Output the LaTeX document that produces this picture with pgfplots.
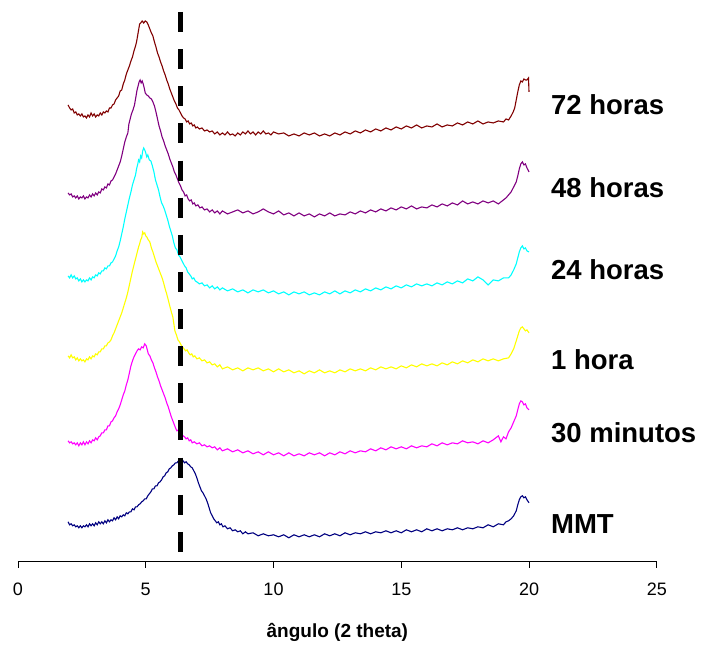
\documentclass[border=0pt]{standalone}
\usepackage{fontspec}
\setmainfont{Liberation Sans}
\usepackage{pgfplots}
\pgfplotsset{compat=1.18}
\definecolor{c72}{HTML}{800000}
\definecolor{c48}{HTML}{800080}
\definecolor{c24}{HTML}{00FFFF}
\definecolor{c1}{HTML}{FFFF00}
\definecolor{c30}{HTML}{FF00FF}
\definecolor{cmmt}{HTML}{000080}
\begin{document}
\begin{tikzpicture}
\begin{axis}[
  scale only axis,
  width=639pt, height=562pt,
  xmin=0, xmax=25, ymin=-562, ymax=0,
  axis x line*=bottom, axis y line=none,
  axis line style={-, black, line width=0.8pt},
  xtick={0,5,10,15,20,25}, ytick=\empty,
  tick align=outside, major tick length=6pt,
  tick style={black, line width=0.8pt},
  /pgf/number format/assume math mode=true,
  xticklabel style={font=\fontsize{18}{18}\selectfont, yshift=-12pt},
  clip=false,
  every axis plot/.append style={line width=1.1pt, mark=none},
]
\path (axis cs:-0.7045,0) rectangle (axis cs:26.888,-645);
\addplot[c72] table {
1.96 -105
2.02 -108
2.08 -110
2.14 -109
2.2 -113
2.26 -112
2.32 -115
2.38 -114
2.44 -116
2.5 -114
2.56 -117
2.62 -116
2.68 -118
2.74 -115
2.8 -117
2.86 -113
2.92 -116
2.98 -114
3.04 -117
3.1 -115
3.16 -116
3.22 -113
3.28 -115
3.34 -112
3.4 -113
3.46 -111
3.52 -112
3.58 -108
3.64 -108
3.7 -105
3.76 -104
3.82 -100
3.88 -98
3.94 -96
4.0 -91
4.06 -90
4.12 -84
4.18 -80
4.24 -74
4.3 -70
4.36 -66
4.42 -61
4.48 -57
4.54 -51
4.6 -46
4.64 -42
4.68 -36
4.72 -30
4.76 -24
4.8 -23
4.86 -21
4.92 -23
4.98 -21
5.04 -22
5.1 -25
5.16 -29
5.22 -33
5.28 -36
5.34 -42
5.4 -47
5.46 -53
5.52 -57
5.58 -62
5.64 -66
5.7 -71
5.76 -75
5.82 -80
5.88 -84
5.94 -89
6.0 -93
6.06 -97
6.12 -101
6.18 -104
6.24 -108
6.3 -110
6.36 -113
6.42 -116
6.48 -118
6.54 -119
6.6 -122
6.66 -121
6.72 -124
6.78 -123
6.84 -126
6.9 -125
6.96 -128
7.02 -127
7.1 -129
7.2 -128
7.3 -131
7.4 -130
7.5 -132
7.6 -131
7.7 -134
7.8 -132
7.9 -135
8.0 -133
8.1 -135
8.2 -132
8.3 -135
8.4 -134
8.5 -136
8.6 -133
8.7 -135
8.8 -132
8.9 -134
9.0 -131
9.1 -134
9.2 -132
9.3 -135
9.4 -132
9.5 -134
9.6 -131
9.7 -134
9.8 -133
9.9 -135
10.0 -132
10.2 -134
10.4 -133
10.6 -136
10.8 -134
11.0 -136
11.2 -133
11.4 -135
11.6 -133
11.8 -136
12.0 -134
12.2 -136
12.4 -133
12.6 -135
12.8 -132
13.0 -134
13.2 -131
13.4 -133
13.6 -130
13.8 -132
14.0 -129
14.2 -131
14.4 -128
14.6 -130
14.8 -127
15.0 -129
15.2 -126
15.4 -128
15.6 -125
15.8 -128
16.0 -126
16.2 -127
16.4 -124
16.6 -127
16.8 -125
17.0 -126
17.2 -123
17.4 -125
17.6 -122
17.8 -124
18.0 -121
18.2 -124
18.4 -122
18.6 -123
18.8 -121
19.0 -122
19.1 -119
19.2 -120
19.3 -116
19.38 -112
19.44 -108
19.5 -100
19.56 -92
19.62 -85
19.68 -81
19.74 -82
19.8 -79
19.86 -80
19.92 -80
19.98 -78
20.0 -92
};
\addplot[c48] table {
1.96 -193
2.02 -195
2.08 -194
2.14 -197
2.2 -196
2.26 -198
2.32 -196
2.38 -199
2.44 -197
2.5 -198
2.56 -196
2.62 -199
2.68 -197
2.74 -198
2.8 -195
2.86 -197
2.92 -194
2.98 -196
3.04 -193
3.1 -195
3.16 -192
3.22 -193
3.28 -189
3.34 -190
3.4 -187
3.46 -188
3.52 -184
3.58 -185
3.64 -181
3.7 -180
3.76 -177
3.82 -174
3.88 -170
3.94 -166
4.0 -162
4.06 -156
4.12 -149
4.18 -142
4.24 -137
4.3 -133
4.34 -124
4.38 -120
4.44 -114
4.5 -110
4.56 -105
4.62 -96
4.66 -90
4.7 -86
4.74 -82
4.78 -80
4.82 -83
4.86 -81
4.9 -84
4.94 -88
4.98 -93
5.04 -95
5.1 -96
5.16 -98
5.22 -99
5.28 -102
5.34 -106
5.4 -112
5.46 -119
5.52 -126
5.58 -131
5.64 -137
5.7 -141
5.76 -146
5.82 -150
5.88 -154
5.94 -159
6.0 -163
6.06 -167
6.12 -172
6.18 -175
6.24 -179
6.3 -183
6.36 -186
6.42 -190
6.48 -192
6.54 -196
6.6 -195
6.66 -199
6.72 -201
6.78 -200
6.84 -204
6.9 -203
6.96 -206
7.04 -205
7.12 -208
7.2 -207
7.3 -210
7.4 -209
7.5 -212
7.6 -210
7.7 -213
7.8 -211
7.9 -214
8.0 -211
8.2 -214
8.4 -212
8.6 -210
8.8 -213
9.0 -211
9.2 -214
9.4 -212
9.6 -209
9.8 -212
10.0 -214
10.2 -211
10.4 -215
10.6 -213
10.8 -216
11.0 -213
11.2 -216
11.4 -214
11.6 -217
11.8 -214
12.0 -216
12.2 -213
12.4 -216
12.6 -214
12.8 -215
13.0 -212
13.2 -214
13.4 -211
13.6 -213
13.8 -210
14.0 -212
14.2 -209
14.4 -211
14.6 -208
14.8 -210
15.0 -207
15.2 -209
15.4 -206
15.6 -209
15.8 -207
16.0 -208
16.2 -205
16.4 -207
16.6 -204
16.8 -206
17.0 -203
17.2 -205
17.4 -201
17.6 -204
17.8 -202
18.0 -204
18.2 -201
18.4 -203
18.6 -201
18.8 -204
19.0 -200
19.1 -198
19.2 -195
19.3 -192
19.4 -187
19.5 -182
19.56 -176
19.62 -169
19.68 -164
19.74 -162
19.8 -165
19.86 -164
19.92 -168
20.0 -172
};
\addplot[c24] table {
1.96 -276
2.02 -278
2.08 -275
2.14 -278
2.2 -276
2.26 -279
2.32 -278
2.38 -281
2.44 -279
2.5 -282
2.56 -280
2.62 -282
2.68 -280
2.74 -281
2.8 -278
2.86 -280
2.92 -277
2.98 -278
3.04 -275
3.1 -276
3.16 -273
3.22 -274
3.28 -271
3.34 -271
3.4 -268
3.46 -269
3.52 -266
3.58 -266
3.64 -263
3.7 -262
3.76 -259
3.82 -256
3.88 -251
3.94 -247
4.0 -241
4.06 -234
4.12 -227
4.18 -219
4.24 -212
4.3 -205
4.36 -198
4.42 -192
4.48 -185
4.54 -180
4.6 -175
4.64 -169
4.68 -165
4.72 -160
4.76 -162
4.8 -156
4.84 -158
4.88 -151
4.92 -148
4.96 -150
5.0 -153
5.04 -157
5.08 -155
5.14 -160
5.2 -161
5.26 -166
5.32 -172
5.38 -180
5.44 -185
5.5 -190
5.56 -197
5.62 -203
5.68 -206
5.74 -210
5.8 -215
5.86 -220
5.92 -226
5.98 -231
6.04 -236
6.1 -243
6.16 -248
6.22 -250
6.28 -255
6.34 -257
6.4 -260
6.46 -263
6.52 -266
6.58 -268
6.64 -272
6.7 -274
6.76 -276
6.82 -279
6.88 -278
6.94 -281
7.0 -282
7.1 -284
7.2 -283
7.3 -286
7.4 -285
7.5 -288
7.6 -286
7.7 -289
7.8 -287
7.9 -290
8.0 -288
8.2 -291
8.4 -289
8.6 -292
8.8 -290
9.0 -293
9.2 -290
9.4 -292
9.6 -290
9.8 -293
10.0 -291
10.2 -294
10.4 -292
10.6 -295
10.8 -292
11.0 -294
11.2 -292
11.4 -295
11.6 -293
11.8 -295
12.0 -292
12.2 -294
12.4 -291
12.6 -294
12.8 -291
13.0 -293
13.2 -290
13.4 -292
13.6 -289
13.8 -291
14.0 -288
14.2 -290
14.4 -287
14.6 -289
14.8 -286
15.0 -288
15.2 -285
15.4 -287
15.6 -284
15.8 -286
16.0 -284
16.2 -286
16.4 -283
16.6 -285
16.8 -282
17.0 -284
17.2 -281
17.4 -283
17.6 -279
17.8 -281
18.0 -277
18.2 -280
18.4 -285
18.6 -280
18.8 -281
19.0 -278
19.2 -278
19.3 -275
19.4 -270
19.5 -264
19.56 -258
19.62 -252
19.68 -248
19.74 -246
19.8 -249
19.86 -248
19.92 -251
20.0 -252
};
\addplot[c1] table {
1.96 -356
2.02 -358
2.08 -355
2.14 -358
2.2 -357
2.26 -360
2.32 -358
2.38 -361
2.44 -359
2.5 -361
2.56 -360
2.62 -362
2.68 -359
2.74 -360
2.8 -357
2.86 -359
2.92 -356
2.98 -357
3.04 -354
3.1 -355
3.16 -352
3.22 -352
3.28 -349
3.34 -349
3.4 -346
3.46 -346
3.52 -343
3.58 -342
3.64 -340
3.7 -336
3.76 -333
3.82 -329
3.88 -325
3.94 -321
4.0 -317
4.06 -313
4.12 -308
4.18 -303
4.24 -298
4.3 -292
4.36 -285
4.42 -278
4.48 -271
4.54 -265
4.6 -259
4.66 -253
4.72 -247
4.76 -244
4.8 -240
4.84 -238
4.88 -232
4.92 -234
4.96 -233
5.0 -236
5.04 -237
5.1 -240
5.16 -242
5.22 -248
5.28 -252
5.34 -257
5.4 -262
5.46 -266
5.52 -270
5.58 -274
5.64 -278
5.7 -283
5.76 -289
5.82 -294
5.88 -300
5.94 -306
6.0 -312
6.06 -317
6.1 -324
6.14 -331
6.2 -335
6.26 -340
6.32 -342
6.38 -345
6.44 -347
6.5 -349
6.56 -351
6.62 -350
6.68 -353
6.74 -355
6.8 -354
6.86 -357
6.92 -356
7.0 -359
7.1 -358
7.2 -361
7.3 -360
7.4 -363
7.5 -362
7.6 -365
7.7 -364
7.8 -367
7.9 -365
8.0 -369
8.2 -367
8.4 -370
8.6 -368
8.8 -371
9.0 -368
9.2 -370
9.4 -368
9.6 -371
9.8 -369
10.0 -372
10.2 -369
10.4 -372
10.6 -370
10.8 -373
11.0 -371
11.2 -374
11.4 -371
11.6 -373
11.8 -370
12.0 -373
12.2 -371
12.4 -373
12.6 -370
12.8 -372
13.0 -369
13.2 -371
13.4 -369
13.6 -371
13.8 -368
14.0 -370
14.2 -367
14.4 -369
14.6 -367
14.8 -369
15.0 -366
15.2 -368
15.4 -365
15.6 -367
15.8 -364
16.0 -366
16.2 -364
16.4 -366
16.6 -363
16.8 -365
17.0 -362
17.2 -364
17.4 -361
17.6 -363
17.8 -360
18.0 -362
18.2 -359
18.4 -361
18.6 -359
18.8 -361
19.0 -359
19.2 -358
19.3 -354
19.4 -349
19.5 -341
19.56 -336
19.62 -331
19.68 -328
19.74 -327
19.8 -329
19.86 -331
19.92 -330
20.0 -333
};
\addplot[c30] table {
1.96 -441
2.02 -443
2.08 -442
2.14 -444
2.2 -443
2.26 -445
2.32 -443
2.38 -446
2.44 -443
2.5 -445
2.56 -442
2.62 -445
2.68 -442
2.74 -444
2.8 -441
2.86 -443
2.92 -440
2.98 -441
3.04 -438
3.1 -440
3.16 -437
3.22 -436
3.28 -433
3.34 -433
3.4 -430
3.46 -430
3.52 -426
3.58 -426
3.64 -422
3.7 -421
3.76 -418
3.82 -416
3.88 -412
3.94 -409
4.0 -405
4.06 -400
4.12 -395
4.18 -391
4.24 -385
4.3 -380
4.36 -373
4.42 -366
4.48 -361
4.54 -357
4.6 -354
4.66 -351
4.72 -349
4.78 -350
4.84 -347
4.9 -348
4.96 -344
5.02 -346
5.06 -350
5.1 -354
5.16 -356
5.22 -360
5.28 -363
5.34 -368
5.4 -372
5.46 -377
5.52 -381
5.58 -386
5.64 -390
5.7 -394
5.76 -398
5.82 -403
5.88 -407
5.94 -412
6.0 -417
6.06 -421
6.12 -425
6.18 -429
6.22 -431
6.28 -430
6.34 -432
6.4 -434
6.46 -436
6.52 -437
6.58 -439
6.64 -438
6.7 -441
6.76 -440
6.82 -443
6.9 -442
7.0 -444
7.1 -443
7.2 -446
7.3 -445
7.4 -447
7.5 -446
7.6 -448
7.7 -447
7.8 -450
7.9 -448
8.0 -451
8.2 -449
8.4 -452
8.6 -450
8.8 -453
9.0 -451
9.2 -454
9.4 -452
9.6 -455
9.8 -452
10.0 -455
10.2 -453
10.4 -456
10.6 -453
10.8 -456
11.0 -454
11.2 -456
11.4 -453
11.6 -455
11.8 -453
12.0 -456
12.2 -453
12.4 -455
12.6 -452
12.8 -454
13.0 -451
13.2 -453
13.4 -451
13.6 -452
13.8 -449
14.0 -451
14.2 -448
14.4 -450
14.6 -447
14.8 -449
15.0 -447
15.2 -449
15.4 -446
15.6 -448
15.8 -446
16.0 -447
16.2 -444
16.4 -446
16.6 -443
16.8 -445
17.0 -443
17.2 -444
17.4 -441
17.6 -443
17.8 -442
18.0 -444
18.2 -441
18.4 -443
18.6 -440
18.8 -436
18.9 -442
19.0 -437
19.1 -439
19.2 -432
19.3 -428
19.4 -422
19.5 -416
19.56 -410
19.62 -404
19.68 -401
19.74 -402
19.8 -405
19.86 -404
19.92 -408
20.0 -410
};
\addplot[cmmt] table {
1.96 -522
2.02 -525
2.08 -524
2.14 -526
2.2 -525
2.26 -527
2.32 -526
2.38 -528
2.44 -526
2.5 -528
2.56 -526
2.62 -527
2.68 -525
2.74 -527
2.8 -524
2.86 -526
2.92 -524
2.98 -526
3.04 -523
3.1 -525
3.16 -522
3.22 -524
3.28 -522
3.34 -524
3.4 -521
3.46 -523
3.52 -520
3.58 -522
3.64 -520
3.7 -521
3.76 -518
3.82 -520
3.88 -517
3.94 -519
4.0 -516
4.06 -517
4.12 -515
4.18 -516
4.24 -513
4.3 -514
4.36 -512
4.42 -512
4.48 -509
4.54 -510
4.6 -507
4.66 -507
4.72 -505
4.78 -504
4.84 -502
4.9 -501
4.96 -499
5.02 -499
5.08 -496
5.14 -494
5.2 -492
5.26 -489
5.32 -489
5.38 -486
5.44 -486
5.5 -483
5.56 -482
5.62 -480
5.68 -477
5.74 -476
5.8 -473
5.86 -472
5.92 -469
5.98 -468
6.04 -466
6.1 -465
6.16 -463
6.22 -463
6.28 -461
6.34 -462
6.4 -464
6.46 -461
6.52 -463
6.58 -462
6.64 -464
6.7 -465
6.76 -467
6.82 -468
6.88 -471
6.94 -474
7.0 -478
7.06 -483
7.12 -487
7.18 -491
7.24 -493
7.3 -496
7.36 -499
7.42 -503
7.48 -508
7.54 -513
7.6 -516
7.66 -519
7.72 -521
7.78 -523
7.84 -522
7.9 -525
7.96 -524
8.02 -527
8.1 -526
8.2 -529
8.3 -528
8.4 -531
8.5 -530
8.6 -532
8.7 -531
8.8 -534
8.9 -532
9.0 -534
9.2 -533
9.4 -536
9.6 -534
9.8 -536
10.0 -535
10.2 -537
10.4 -535
10.6 -538
10.8 -535
11.0 -537
11.2 -535
11.4 -537
11.6 -535
11.8 -537
12.0 -534
12.2 -536
12.4 -534
12.6 -536
12.8 -533
13.0 -535
13.2 -533
13.4 -534
13.6 -532
13.8 -534
14.0 -532
14.2 -533
14.4 -531
14.6 -533
14.8 -531
15.0 -533
15.2 -530
15.4 -532
15.6 -530
15.8 -532
16.0 -529
16.2 -531
16.4 -529
16.6 -531
16.8 -529
17.0 -530
17.2 -528
17.4 -530
17.6 -528
17.8 -529
18.0 -527
18.2 -528
18.4 -525
18.6 -527
18.8 -524
19.0 -525
19.1 -522
19.2 -521
19.3 -519
19.4 -516
19.5 -511
19.56 -505
19.62 -500
19.68 -497
19.74 -496
19.8 -498
19.86 -497
19.92 -500
20.0 -503
};
\addplot[black, line width=5pt, dash pattern=on 20pt off 17.15pt] coordinates {(6.35,-12) (6.35,-552)};
\node[anchor=base west, inner sep=0pt, font=\fontsize{27.5}{27.5}\selectfont\bfseries] at (axis cs:20.86,-115) {72 horas};
\node[anchor=base west, inner sep=0pt, font=\fontsize{27.5}{27.5}\selectfont\bfseries] at (axis cs:20.86,-198) {48 horas};
\node[anchor=base west, inner sep=0pt, font=\fontsize{27.5}{27.5}\selectfont\bfseries] at (axis cs:20.86,-279.5) {24 horas};
\node[anchor=base west, inner sep=0pt, font=\fontsize{27.5}{27.5}\selectfont\bfseries] at (axis cs:20.86,-370) {1 hora};
\node[anchor=base west, inner sep=0pt, font=\fontsize{27.5}{27.5}\selectfont\bfseries] at (axis cs:20.86,-442.7) {30 minutos};
\node[anchor=base west, inner sep=0pt, font=\fontsize{27.5}{27.5}\selectfont\bfseries] at (axis cs:20.86,-533.3) {MMT};
\node[anchor=base, inner sep=0pt, font=\fontsize{19}{19}\selectfont\bfseries] at (axis cs:12.5,-638) {ângulo (2 theta)};
\end{axis}
\end{tikzpicture}
\end{document}
